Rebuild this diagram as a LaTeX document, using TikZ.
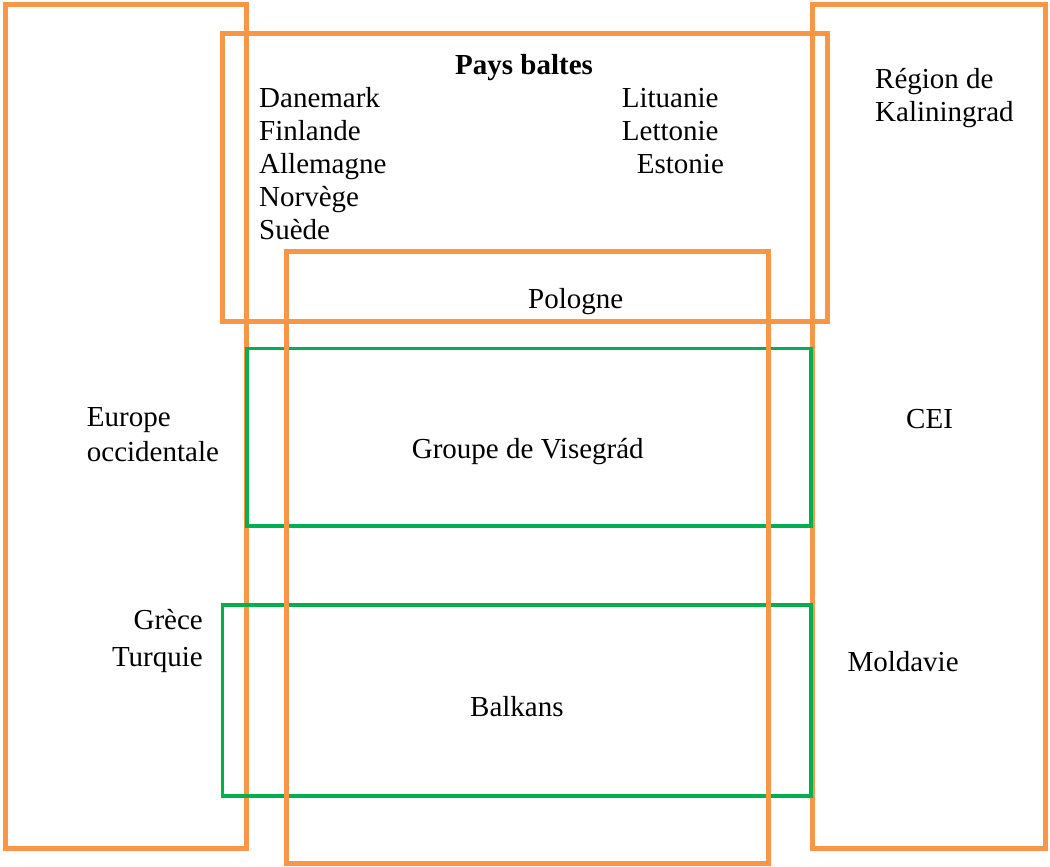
\documentclass[tikz,border=0pt]{standalone}
\usepackage{fontspec}
\setmainfont{Liberation Serif}
\definecolor{boxorange}{HTML}{F79646}
\definecolor{boxgreen}{HTML}{00B050}
\begin{document}
\begin{tikzpicture}[x=1pt,y=-1pt,
  obox/.style={draw=boxorange,line width=5pt},
  gbox/.style={draw=boxgreen,line width=3.5pt},
  lbl/.style={inner sep=0pt,anchor=base west,font=\fontsize{29}{33}\selectfont},
  lble/.style={lbl,anchor=base east}]
\useasboundingbox (0,0) rectangle (1050,867);
% orange frames
\draw[obox] (5.5,5) rectangle (246.5,848);
\draw[obox] (812,4.5) rectangle (1045.5,848);
\draw[obox] (222.5,33.5) rectangle (827.5,321);
% green frames
\draw[gbox] (247,348.5) rectangle (811,526);
\draw[gbox] (222.5,605) rectangle (811,796);
% Pologne frame
\draw[obox] (286,251) rectangle (768.5,863.5);
% texts
\begin{scope}[yshift=-1.5pt]
\node[lbl,font=\fontsize{29}{33}\selectfont\bfseries] (pb) at (455,73.3) {Pays baltes};
\node[lbl] (dk) at (259,105.7) {Danemark};
\node[lbl] (fi) at (259,138.7) {Finlande};
\node[lbl] (de) at (259,171.7) {Allemagne};
\node[lbl] (no) at (259,204.7) {Norvège};
\node[lbl] (se) at (259,237.7) {Suède};
\node[lbl] (lt) at (621.7,106.2) {Lituanie};
\node[lbl] (lv) at (621.7,139.2) {Lettonie};
\node[lbl] (ee) at (636.7,172) {Estonie};
\node[lbl] (pl) at (528,306.7) {Pologne};
\node[lbl] (kal1) at (875,87.3) {Région de};
\node[lbl] (kal2) at (875,120.3) {Kaliningrad};
\node[lbl] (eo1) at (86.7,425) {Europe};
\node[lbl] (eo2) at (86.7,460) {occidentale};
\node[lbl] (cei) at (906,426.7) {CEI};
\node[lbl] (vis) at (411.7,456.7) {Groupe de Visegrád};
\node[lble] (gr) at (203,628.3) {Grèce};
\node[lble] (tr) at (203,665) {Turquie};
\node[lbl] (md) at (847.3,670) {Moldavie};
\node[lbl] (bk) at (470,715) {Balkans};
\end{scope}
\end{tikzpicture}
\end{document}
